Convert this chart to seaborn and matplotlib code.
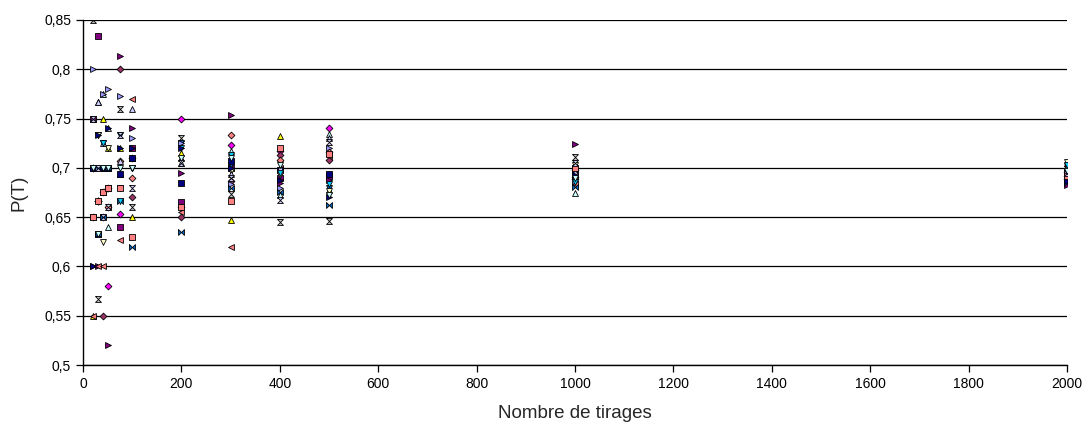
import matplotlib
matplotlib.use("Agg")
import matplotlib.pyplot as plt
from matplotlib.path import Path
from matplotlib.ticker import FuncFormatter, MultipleLocator
import pandas as pd
import seaborn as sns

# number of draws (x) and the 20 simulated P(T) values read at each of them
tirages = [20, 30, 40, 50, 75, 100, 200, 300, 400, 500, 1000, 2000]

p_20 = [0.70, 0.75, 0.55, 0.70, 0.60, 0.70, 0.85, 0.70, 0.55, 0.70,
        0.80, 0.65, 0.65, 0.65, 0.75, 0.70, 0.60, 0.65, 0.75, 0.70]
p_30 = [0.6667, 0.8333, 0.70, 0.7667, 0.60, 0.6667, 0.5667, 0.7333, 0.60, 0.6333,
        0.70, 0.7333, 0.6667, 0.6333, 0.7667, 0.70, 0.7333, 0.6667, 0.70, 0.6333]
p_40 = [0.65, 0.675, 0.75, 0.775, 0.70, 0.55, 0.70, 0.725, 0.60, 0.70,
        0.775, 0.625, 0.675, 0.65, 0.725, 0.725, 0.70, 0.675, 0.65, 0.70]
p_50 = [0.58, 0.68, 0.72, 0.64, 0.52, 0.68, 0.70, 0.70, 0.66, 0.70,
        0.78, 0.72, 0.66, 0.70, 0.74, 0.70, 0.74, 0.68, 0.66, 0.70]
p_75 = [0.6533, 0.64, 0.72, 0.6933, 0.8133, 0.80, 0.76, 0.7333, 0.6267, 0.6933,
        0.7733, 0.68, 0.7067, 0.6667, 0.7067, 0.6667, 0.72, 0.68, 0.7333, 0.70]
p_100 = [0.71, 0.72, 0.65, 0.71, 0.74, 0.67, 0.66, 0.70, 0.77, 0.71,
         0.73, 0.70, 0.69, 0.62, 0.76, 0.70, 0.72, 0.63, 0.68, 0.70]
p_200 = [0.75, 0.665, 0.715, 0.705, 0.695, 0.65, 0.73, 0.725, 0.655, 0.685,
         0.725, 0.66, 0.66, 0.635, 0.71, 0.72, 0.72, 0.66, 0.705, 0.71]
p_300 = [0.7233, 0.70, 0.6467, 0.7167, 0.7533, 0.6867, 0.6733, 0.7033, 0.62, 0.7067,
         0.6833, 0.6967, 0.7333, 0.68, 0.6933, 0.7133, 0.70, 0.6667, 0.69, 0.71]
p_400 = [0.7175, 0.69, 0.7325, 0.6725, 0.685, 0.7125, 0.645, 0.705, 0.70, 0.6975,
         0.68, 0.6925, 0.7075, 0.675, 0.70, 0.695, 0.6875, 0.72, 0.6675, 0.7025]
p_500 = [0.74, 0.692, 0.678, 0.734, 0.688, 0.708, 0.646, 0.68, 0.712, 0.694,
         0.72, 0.676, 0.716, 0.662, 0.73, 0.684, 0.67, 0.714, 0.726, 0.672]
p_1000 = [0.698, 0.693, 0.701, 0.674, 0.724, 0.689, 0.711, 0.695, 0.684, 0.699,
          0.687, 0.703, 0.691, 0.681, 0.696, 0.686, 0.693, 0.70, 0.705, 0.69]
p_2000 = [0.6955, 0.69, 0.7045, 0.699, 0.683, 0.692, 0.6985, 0.7015, 0.6875, 0.6935,
          0.696, 0.7055, 0.689, 0.6845, 0.7005, 0.703, 0.6865, 0.6915, 0.695, 0.697]

columns = [p_20, p_30, p_40, p_50, p_75, p_100, p_200, p_300, p_400, p_500, p_1000, p_2000]

rows = []
for n, vals in zip(tirages, columns):
    for serie, v in enumerate(vals):
        rows.append({"serie": serie, "tirages": n, "p": v})
df = pd.DataFrame(rows)

# Excel-like marker styles
hourglass = Path([(-1, 1), (1, 1), (-1, -1), (1, -1), (-1, 1)])
bowtie = Path([(-1, 1), (-1, -1), (1, 1), (1, -1), (-1, 1)])
styles = [
    ("D", "#FF00FF"), ("s", "#800080"), ("^", "#FFFF00"), ("^", "#CCFFFF"),
    (">", "#800080"), ("D", "#993366"), (hourglass, "#C0C0C0"), ("v", "#0066CC"),
    ("<", "#FF8080"), ("s", "#000080"), (">", "#9999FF"), ("v", "#FFFFCC"),
    ("D", "#FF8080"), (bowtie, "#0066CC"), ("^", "#CCCCFF"), ("v", "#00CCFF"),
    (">", "#000080"), ("s", "#FF8080"), (hourglass, "#CCCCFF"), ("v", "#CCFFFF"),
]
sizes = {"D": 12, "s": 14}

sns.set_style("white")
plt.rcParams["font.family"] = ["Liberation Sans", "DejaVu Sans"]

fig = plt.figure(figsize=(10.85, 4.23), dpi=100)
ax = fig.add_axes([0.0765, 0.137, 0.907, 0.816])

for serie, grp in df.groupby("serie"):
    marker, color = styles[serie % len(styles)]
    size = sizes.get(marker, 18) if isinstance(marker, str) else 18
    sns.scatterplot(data=grp, x="tirages", y="p", marker=marker, color=color,
                    edgecolor="black", linewidth=0.6, s=size, ax=ax, zorder=3,
                    legend=False)

ax.set_xlim(0, 2000)
ax.set_ylim(0.5, 0.85)
ax.xaxis.set_major_locator(MultipleLocator(200))
ax.yaxis.set_major_locator(MultipleLocator(0.05))
ax.yaxis.set_major_formatter(FuncFormatter(lambda v, _: f"{v:.2f}".rstrip("0").replace(".", ",")))
ax.grid(axis="y", color="black", linewidth=0.9)
ax.grid(axis="x", visible=False)
ax.set_axisbelow(True)

for side in ["top", "right"]:
    ax.spines[side].set_visible(False)
for side in ["left", "bottom"]:
    ax.spines[side].set_color("black")
    ax.spines[side].set_linewidth(1.0)

ax.tick_params(axis="both", direction="out", length=5, width=0.9, colors="black",
               labelsize=10, bottom=True, left=True)
ax.set_xlabel("Nombre de tirages", fontsize=13.5, labelpad=10)
ax.set_ylabel("P(T)", fontsize=13.5, labelpad=12)

plt.savefig("out.png", dpi=100)
